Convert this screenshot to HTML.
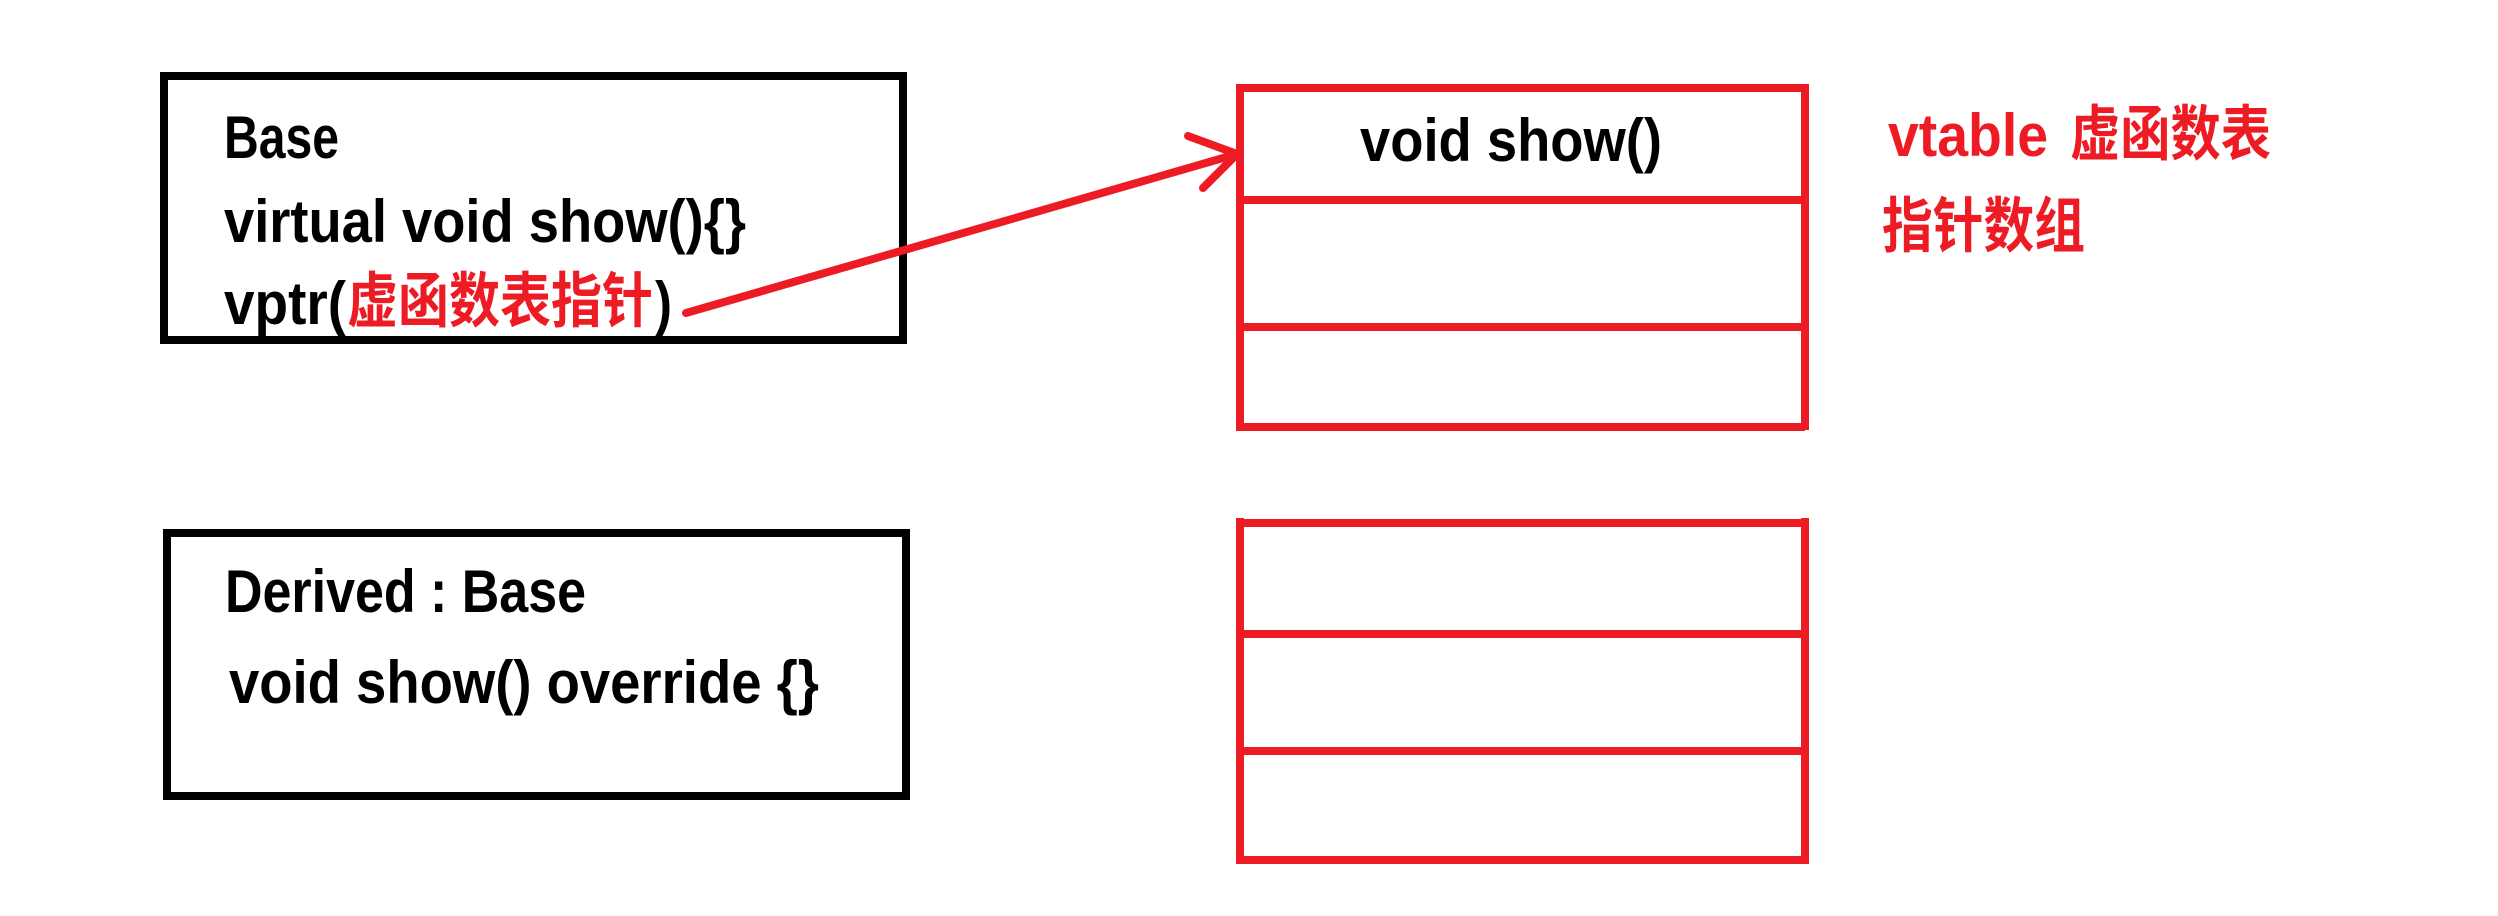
<!DOCTYPE html>
<html><head><meta charset="utf-8"><style>
html,body{margin:0;padding:0;background:#fff;}
svg{display:block;}
text{font-family:"Liberation Sans","Noto Sans CJK SC",sans-serif;font-weight:bold;font-size:60px;}
.cjk{font-family:"Noto Sans CJK SC","WenQuanYi Zen Hei",sans-serif;font-weight:bold;}
</style></head><body>
<svg width="2498" height="916" viewBox="0 0 2498 916">
<g>
<rect x="164" y="76" width="739" height="264" fill="none" stroke="#000" stroke-width="8"/>
<text x="224" y="158" textLength="115" lengthAdjust="spacingAndGlyphs">Base</text>
<text x="224" y="242" textLength="522" lengthAdjust="spacingAndGlyphs">virtual void show(){}</text>
<text x="224" y="324" textLength="122" lengthAdjust="spacingAndGlyphs">vptr(</text>
<text x="347" y="322" class="cjk" fill="#ed1c24" font-size="56" textLength="306" lengthAdjust="spacingAndGlyphs">虚函数表指针</text>
<text x="655" y="324" textLength="17" lengthAdjust="spacingAndGlyphs">)</text>
</g>
<g>
<rect x="167" y="533" width="739" height="263" fill="none" stroke="#000" stroke-width="8"/>
<text x="225" y="612" textLength="361" lengthAdjust="spacingAndGlyphs">Derived : Base</text>
<text x="229" y="703" textLength="590" lengthAdjust="spacingAndGlyphs">void show() override {}</text>
</g>
<g stroke="#ed1c24" stroke-width="8" stroke-linecap="round" fill="none">
<line x1="686" y1="313" x2="1237" y2="154"/>
<line x1="1188" y1="136" x2="1237" y2="154"/>
<line x1="1203" y1="188" x2="1237" y2="154"/>
</g>
<g stroke="#ed1c24" stroke-width="8" fill="none">
<line x1="1240" y1="84" x2="1240" y2="430"/>
<line x1="1805" y1="84" x2="1805" y2="430"/>
<line x1="1236" y1="88" x2="1809" y2="88"/>
<line x1="1236" y1="200" x2="1809" y2="200"/>
<line x1="1236" y1="327" x2="1805" y2="327"/>
<line x1="1236" y1="427" x2="1805" y2="427"/>
</g>
<text x="1360" y="161" textLength="302" lengthAdjust="spacingAndGlyphs">void show()</text>
<g stroke="#ed1c24" stroke-width="8" fill="none">
<line x1="1240" y1="518" x2="1240" y2="863"/>
<line x1="1805" y1="518" x2="1805" y2="863"/>
<line x1="1236" y1="523" x2="1809" y2="523"/>
<line x1="1236" y1="634" x2="1809" y2="634"/>
<line x1="1236" y1="751" x2="1809" y2="751"/>
<line x1="1236" y1="860" x2="1809" y2="860"/>
</g>
<text x="1888" y="156" fill="#ed1c24" textLength="160" lengthAdjust="spacingAndGlyphs">vtable</text>
<text x="2070" y="155" class="cjk" fill="#ed1c24" font-size="54" textLength="201" lengthAdjust="spacingAndGlyphs">虚函数表</text>
<text x="1882" y="247" class="cjk" fill="#ed1c24" font-size="54" textLength="203" lengthAdjust="spacingAndGlyphs">指针数组</text>
</svg>
</body></html>
